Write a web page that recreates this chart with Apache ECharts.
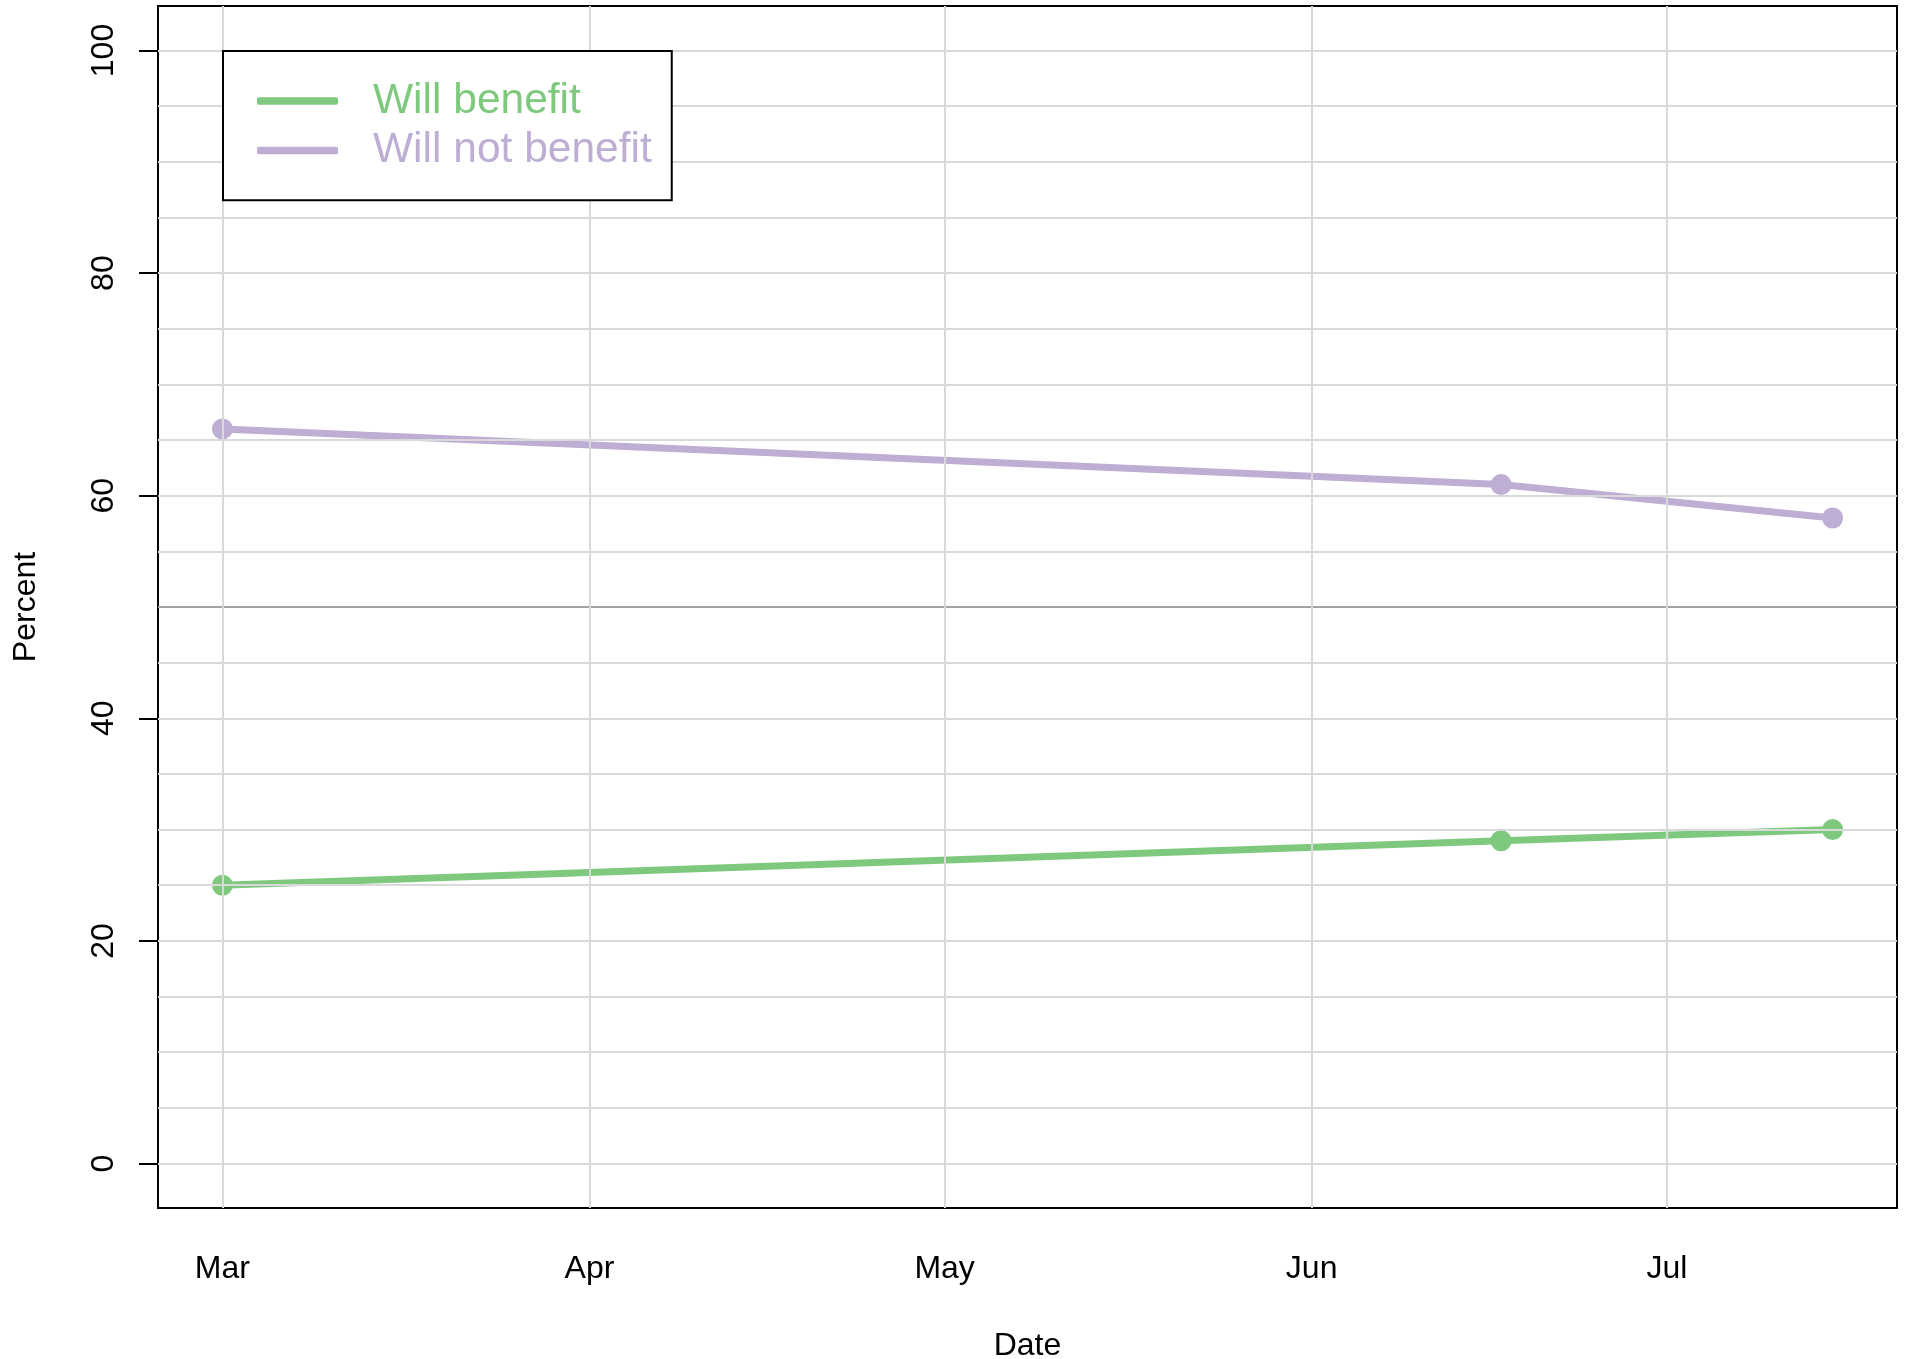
<!DOCTYPE html>
<html>
<head>
<meta charset="utf-8">
<title>Will benefit / Will not benefit</title>
<script src="https://cdn.jsdelivr.net/npm/echarts@6/dist/echarts.min.js"></script>
<style>
    html, body { margin: 0; padding: 0; background: #fff; }
    #chart { width: 1907px; height: 1359px; }
</style>
</head>
<body>
<div id="chart"></div>
<script>
// data
var dates = ['2021-03-01', '2021-06-17', '2021-07-15'];
var willBenefit = [25, 29, 30];
var willNotBenefit = [66, 61, 58];
var monthTicks = ['2021-03-01', '2021-04-01', '2021-05-01', '2021-06-01', '2021-07-01'];
var yTicks = [0, 20, 40, 60, 80, 100];
var yGrid = [0, 5, 10, 15, 20, 25, 30, 35, 40, 45, 50, 55, 60, 65, 70, 75, 80, 85, 90, 95, 100];

var FONT = '"Liberation Sans", Arial, Helvetica, sans-serif';
var GREEN = '#7FC97F', PURPLE = '#BEAED4';

// local-time parsing, same as the time axis
var toTime = function (s) {
    var p = s.split('-');
    return new Date(+p[0], p[1] - 1, +p[2]).getTime();
};

var xs = dates.map(toTime);
var pad = (xs[xs.length - 1] - xs[0]) * 0.04;
var monthValues = monthTicks.map(toTime);

var pairs = function (vals) {
    return vals.map(function (v, i) { return [xs[i], v]; });
};

var chart = echarts.init(document.getElementById('chart'));

// light grid every 5, darker line at 50, month verticals
var gridLines = yGrid.map(function (v) {
    return { yAxis: v, lineStyle: { color: v === 50 ? '#a3a3a3' : '#d9d9d9' } };
}).concat(monthValues.map(function (t) {
    return { xAxis: t };
}));

var option = {
    animation: false,
    textStyle: { fontFamily: FONT },
    grid: {
        left: 158, right: 10, top: 6, bottom: 151,
        outerBoundsMode: 'none',
        containLabel: false,
        show: true, borderColor: '#000', borderWidth: 2, backgroundColor: 'transparent'
    },
    legend: {
        left: 223, top: 51,
        z: 20,
        orient: 'vertical',
        padding: [25.4, 20, 25.4, 34],
        itemWidth: 81, itemHeight: 7.5, itemGap: 0.5,
        icon: 'roundRect',
        backgroundColor: '#fff',
        borderColor: '#000', borderWidth: 2,
        textStyle: { fontSize: 42.5, lineHeight: 29.6, fontFamily: FONT, padding: [19.4, 0, 0, 30] },
        data: [
            { name: 'Will benefit', textStyle: { color: GREEN } },
            { name: 'Will not benefit', textStyle: { color: PURPLE } }
        ]
    },
    xAxis: {
        type: 'time',
        min: xs[0] - pad,
        max: xs[xs.length - 1] + pad,
        name: 'Date',
        nameLocation: 'middle',
        nameGap: 122,
        nameTextStyle: { fontSize: 32, color: '#000', fontFamily: FONT },
        axisLine: { show: false },
        axisTick: { show: true, length: 19, customValues: monthValues, lineStyle: { color: '#000', width: 2 } },
        axisLabel: {
            customValues: monthValues,
            fontSize: 32, color: '#000', margin: 45, fontFamily: FONT,
            formatter: '{MMM}'
        },
        splitLine: { show: false }
    },
    yAxis: {
        type: 'value',
        min: -4, max: 104,
        name: 'Percent',
        nameLocation: 'middle',
        nameGap: 116,
        nameTextStyle: { fontSize: 32, color: '#000', fontFamily: FONT },
        axisLine: { show: false },
        axisTick: { show: true, length: 19, customValues: yTicks, lineStyle: { color: '#000', width: 2 } },
        axisLabel: {
            customValues: yTicks,
            rotate: 90,
            fontSize: 32, color: '#000', margin: 38, fontFamily: FONT
        },
        splitLine: { show: false }
    },
    series: [
        {
            name: 'gridlines',
            type: 'line',
            data: [],
            z: 1,
            silent: true,
            markLine: {
                silent: true,
                animation: false,
                symbol: ['none', 'none'],
                label: { show: false },
                lineStyle: { type: 'solid', width: 2, color: '#d9d9d9' },
                emphasis: { disabled: true },
                data: gridLines
            }
        },
        {
            name: 'Will benefit',
            type: 'line',
            z: 3,
            data: pairs(willBenefit),
            symbol: 'circle',
            symbolSize: 21,
            color: GREEN,
            lineStyle: { width: 7, color: GREEN },
            itemStyle: { color: GREEN }
        },
        {
            name: 'Will not benefit',
            type: 'line',
            z: 3,
            data: pairs(willNotBenefit),
            symbol: 'circle',
            symbolSize: 21,
            color: PURPLE,
            lineStyle: { width: 7, color: PURPLE },
            itemStyle: { color: PURPLE }
        }
    ]
};

chart.setOption(option);

window.onresize = function () {
    chart.resize();
};
</script>
</body>
</html>
